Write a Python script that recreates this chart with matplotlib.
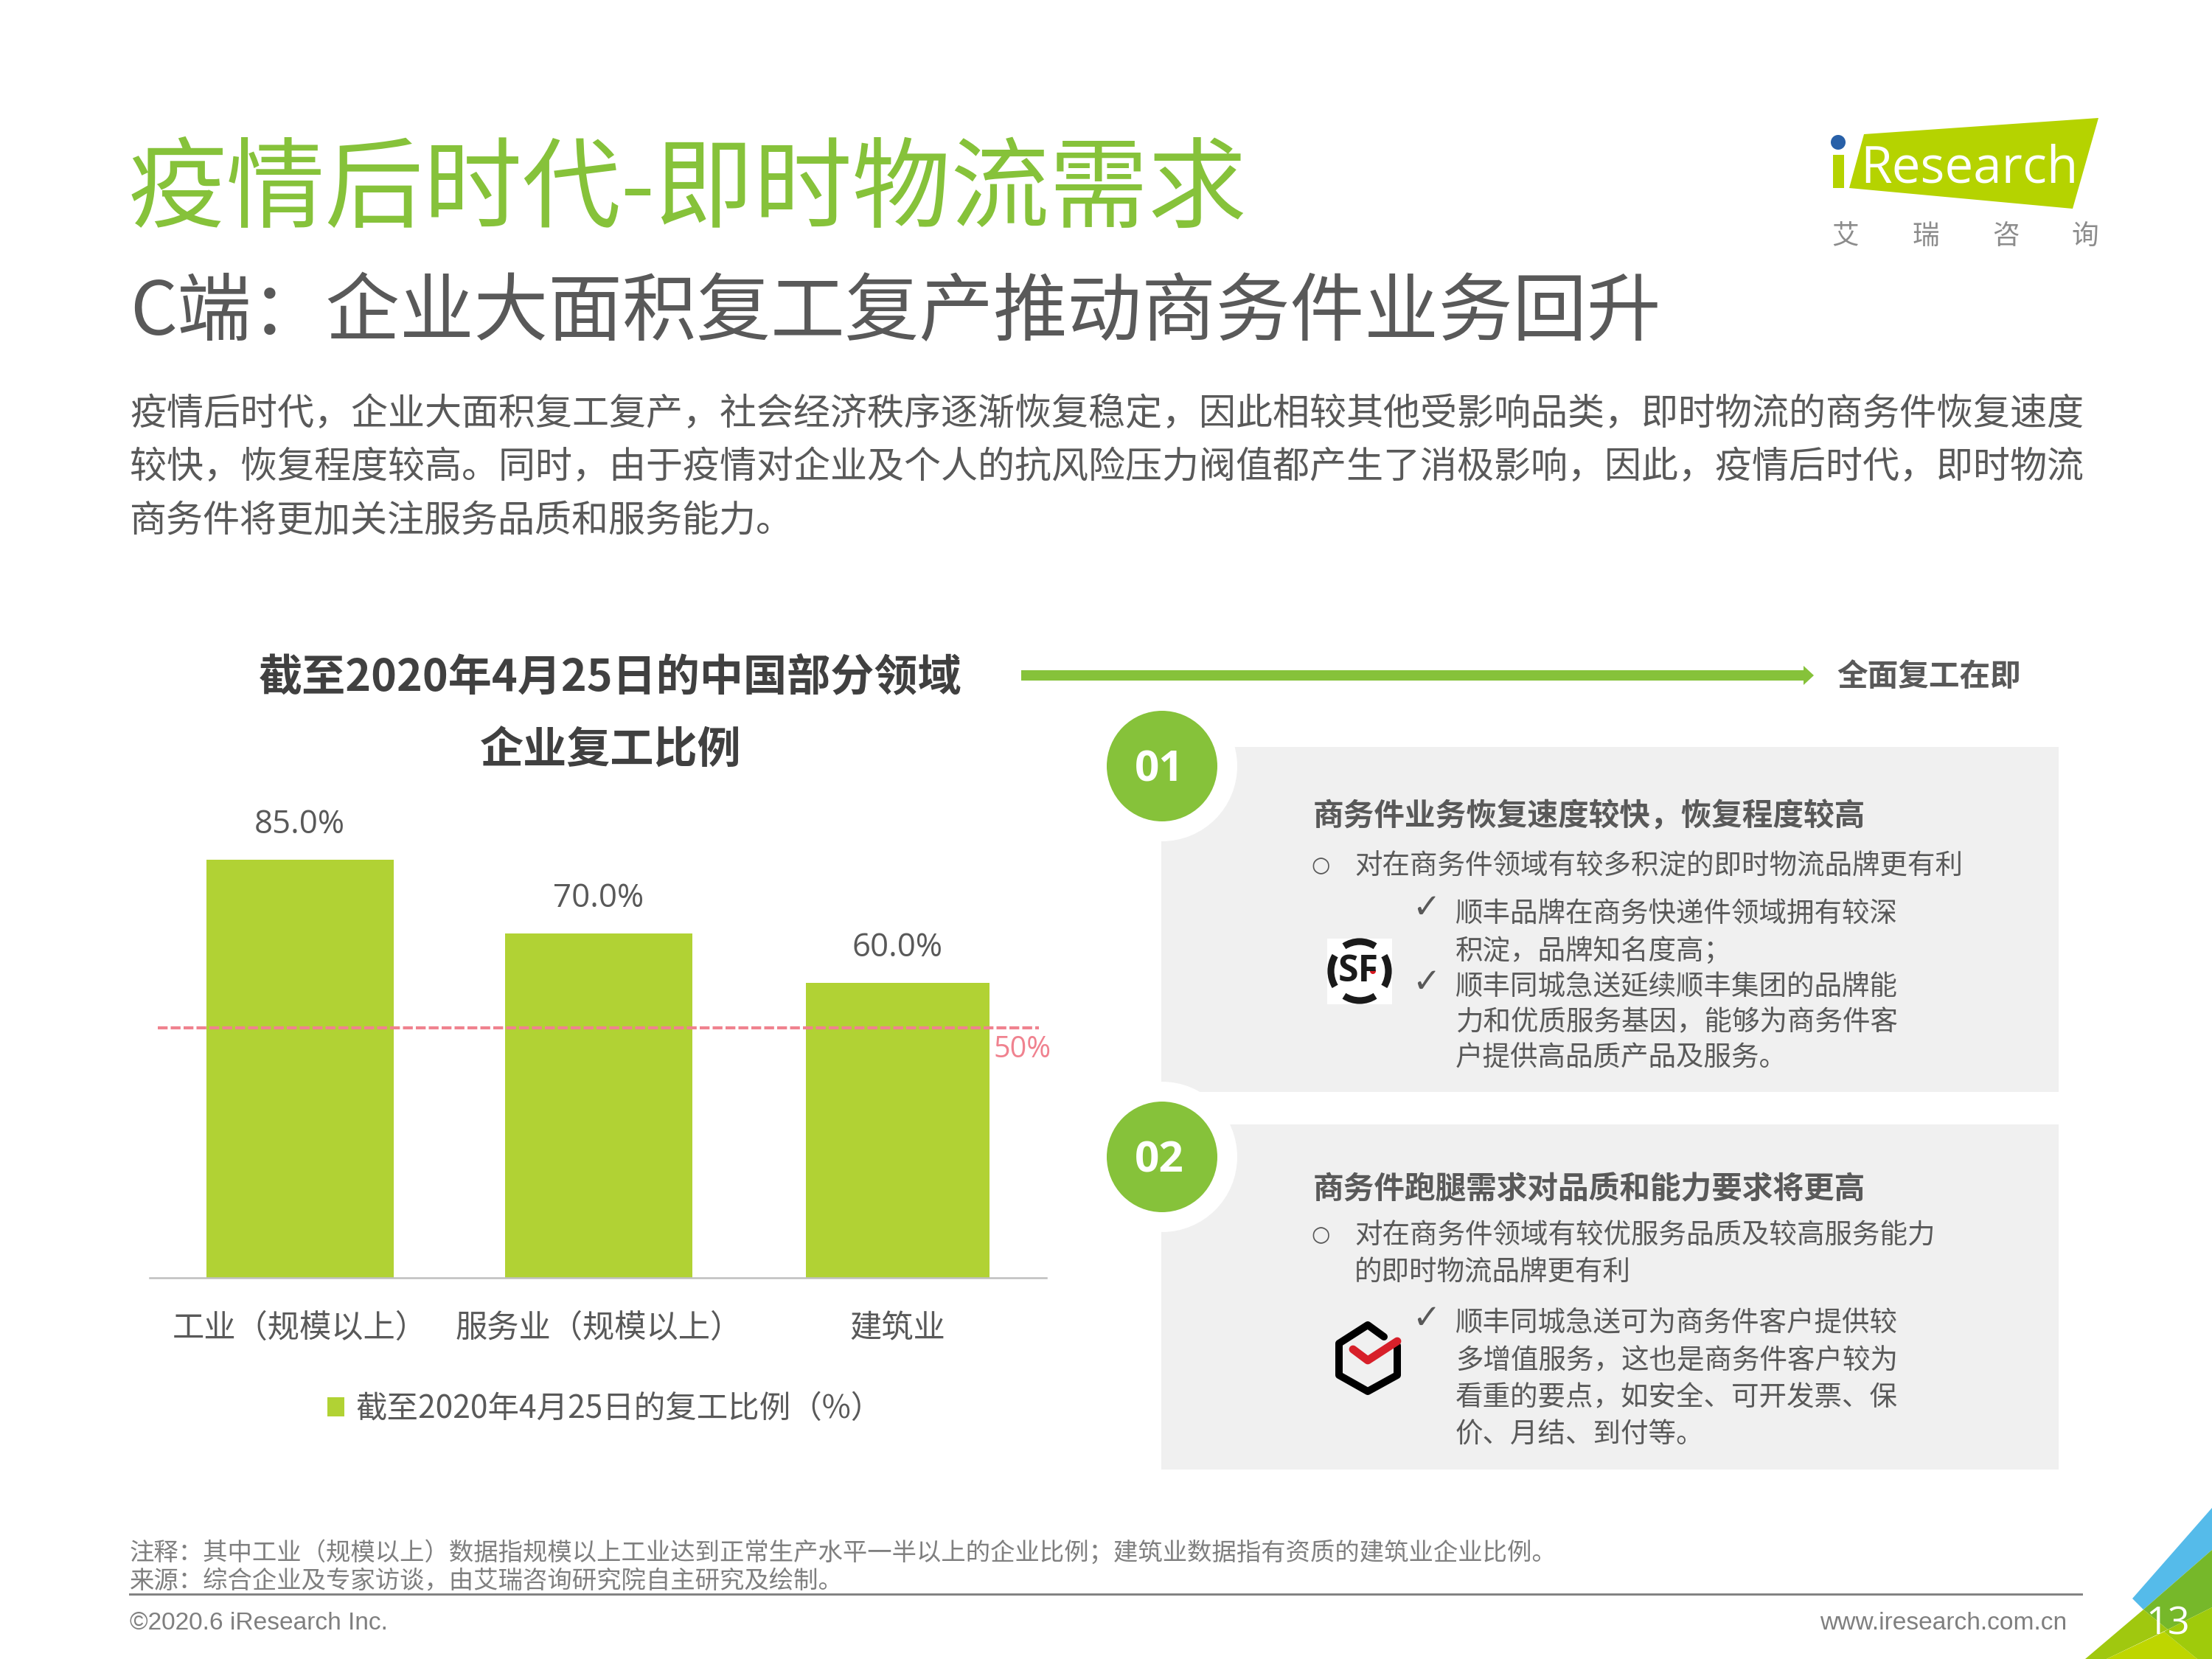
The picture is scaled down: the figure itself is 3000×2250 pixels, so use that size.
import matplotlib
matplotlib.use('Agg')
import matplotlib.pyplot as plt
from matplotlib.patches import Rectangle, Circle, Polygon, Arc

plt.rcParams['font.family'] = ['Noto Sans CJK SC', 'DejaVu Sans']

# chart data
categories = ['工业（规模以上）', '服务业（规模以上）', '建筑业']
values = [85.0, 70.0, 60.0]
bar_widths = [0.627, 0.627, 0.615]
ref_line = 50.8
ref_label = '50%'
legend_label = '截至2020年4月25日的复工比例（%）'

title = '疫情后时代-即时物流需求'
subtitle = 'C端：企业大面积复工复产推动商务件业务回升'
body = ['疫情后时代，企业大面积复工复产，社会经济秩序逐渐恢复稳定，因此相较其他受影响品类，即时物流的商务件恢复速度',
        '较快，恢复程度较高。同时，由于疫情对企业及个人的抗风险压力阀值都产生了消极影响，因此，疫情后时代，即时物流',
        '商务件将更加关注服务品质和服务能力。']
chart_title = ['截至2020年4月25日的中国部分领域', '企业复工比例']
panel1_lines = ['顺丰品牌在商务快递件领域拥有较深', '积淀，品牌知名度高；', '顺丰同城急送延续顺丰集团的品牌能',
                '力和优质服务基因，能够为商务件客', '户提供高品质产品及服务。']
panel2_lines = ['顺丰同城急送可为商务件客户提供较', '多增值服务，这也是商务件客户较为',
                '看重的要点，如安全、可开发票、保', '价、月结、到付等。']

GREEN = '#86C23A'
BAR = '#B1D234'
GREY = '#595959'
FOOT = '#7F7F7F'
PINK = '#F0828F'
PANEL = '#F0F0F0'

fig = plt.figure(figsize=(10, 7.5), dpi=300, facecolor='white')

# slide layer, coordinates in pixels
bg = fig.add_axes([0, 0, 1, 1])
bg.set_xlim(0, 3000)
bg.set_ylim(2250, 0)
bg.axis('off')


def put(x, y, s, size, color=GREY, weight='normal', ha='left', family=None):
    kw = {'family': family} if family else {}
    bg.text(x, y, s, fontsize=size, color=color, fontweight=weight, ha=ha, va='center', **kw)


# header
put(174, 260, title, 32.1, color=GREEN)
put(176, 425, subtitle, 24.15)
for y, line in zip([562, 634, 707], body):
    put(176, y, line, 12)

# logo
bg.add_patch(Polygon([(2528, 182), (2846, 160), (2811, 283), (2508, 255)], fc='#B5D300', ec='none'))
bg.add_patch(Rectangle((2486, 210), 15, 45, fc='#B5D300', ec='none'))
bg.add_patch(Circle((2493, 193), 10, fc='#2860A8', ec='none'))
bg.text(2523, 247, 'Research', fontsize=16.6, color='white', family='Open Sans', va='baseline')
for x, ch in zip([2503, 2612, 2720, 2828], '艾瑞咨询'):
    put(x, 320, ch, 8.8, color='#8C8C8C', ha='center')

# chart title and arrow
for y, line in zip([919, 1019], chart_title):
    put(828, y, line, 14.2, color='#404040', weight='bold', ha='center')
bg.add_patch(Polygon([(1385, 909), (2446, 909), (2446, 903), (2460, 916), (2446, 929), (2446, 923), (1385, 923)],
                     fc=GREEN, ec='none'))
put(2491, 918, '全面复工在即', 10, weight='bold')

# panels
for top, bottom in [(1013, 1481), (1525, 1993)]:
    bg.add_patch(Rectangle((1575, top), 1217, bottom - top, fc=PANEL, ec='none'))
for cy, num in [(1039, '01'), (1569, '02')]:
    bg.add_patch(Circle((1576, cy), 102, fc='white', ec='none'))
    bg.add_patch(Circle((1576, cy), 75, fc=GREEN, ec='none'))
    bg.text(1572, cy + 5, num, fontsize=14, color='white', fontweight='bold', family='Open Sans',
            ha='center', va='center')

# panel 1 text
put(1781, 1107, '商务件业务恢复速度较快，恢复程度较高', 10, weight='bold')
put(1791, 1174, '○', 7, ha='center', family='DejaVu Sans')
put(1837, 1175, '对在商务件领域有较多积淀的即时物流品牌更有利', 9)
for y in [1232, 1333]:
    put(1934, y, '✓', 11, ha='center', family='DejaVu Sans')
for y, line in zip([1240, 1290, 1339, 1387, 1435], panel1_lines):
    put(1974, y, line, 9)

# panel 2 text
put(1781, 1613, '商务件跑腿需求对品质和能力要求将更高', 10, weight='bold')
put(1791, 1675, '○', 7, ha='center', family='DejaVu Sans')
put(1837, 1676, '对在商务件领域有较优服务品质及较高服务能力', 9)
put(1837, 1726, '的即时物流品牌更有利', 9)
put(1934, 1789, '✓', 11, ha='center', family='DejaVu Sans')
for y, line in zip([1795, 1846, 1896, 1946], panel2_lines):
    put(1974, y, line, 9)

# SF logo
bg.add_patch(Rectangle((1800, 1273), 88, 89, fc='white', ec='none'))
for a1, a2 in [(-32, 32), (58, 122), (148, 212), (238, 302)]:
    bg.add_patch(Arc((1844, 1317), 78, 80, theta1=a1, theta2=a2, color='#1A1A1A', lw=2.2))
bg.text(1842, 1318, 'SF', fontsize=12, color='#1A1A1A', fontweight='bold', family='Open Sans',
        ha='center', va='center')
bg.add_patch(Circle((1862, 1317), 4, fc='#D7181F', ec='none'))

# hexagon logo
hex_x = [1877, 1855, 1816, 1816, 1855, 1895, 1895]
hex_y = [1813, 1797, 1822, 1865, 1887, 1865, 1825]
bg.plot(hex_x, hex_y, color='black', lw=2.4, solid_joinstyle='round', solid_capstyle='round')
bg.plot([1835, 1855, 1895], [1830, 1845, 1819], color='#D7202A', lw=2.6, solid_capstyle='round')

# footer
put(176, 2106, '注释：其中工业（规模以上）数据指规模以上工业达到正常生产水平一半以上的企业比例；建筑业数据指有资质的建筑业企业比例。',
    8, color=FOOT)
put(176, 2145, '来源：综合企业及专家访谈，由艾瑞咨询研究院自主研究及绘制。', 8, color=FOOT)
bg.plot([176, 2823], [2162, 2162], color='#808080', lw=0.7)
put(176, 2202, '©2020.6 iResearch Inc.', 8.05, color=FOOT, family='Liberation Sans')
put(2803, 2202, 'www.iresearch.com.cn', 8.05, color=FOOT, ha='right', family='Liberation Sans')

# corner
bg.add_patch(Polygon([(2892, 2168), (3000, 2045), (3000, 2102), (2907, 2183)], fc='#55BBEA', ec='none'))
bg.add_patch(Polygon([(2907, 2183), (3000, 2102), (3000, 2180), (2940, 2210)], fc='#76B82A', ec='none'))
bg.add_patch(Polygon([(2828, 2250), (2907, 2183), (2940, 2210), (2857, 2250)], fc='#A0C80F', ec='none'))
bg.add_patch(Polygon([(2857, 2250), (2935, 2213), (2980, 2250)], fc='#BED600', ec='none'))
bg.add_patch(Polygon([(2940, 2210), (3000, 2180), (3000, 2250), (2980, 2250), (2935, 2213)], fc='#9FCB0B', ec='none'))
bg.text(2940, 2203, '13', fontsize=12.5, color='white', family='Open Sans', ha='center', va='center')

# bar chart
ax = fig.add_axes([203 / 3000, 1 - 1733 / 2250, (1419 - 203) / 3000, (1733 - 1100) / 2250])
ax.patch.set_alpha(0)
ax.set_xlim(-0.5025, 2.4975)
ax.set_ylim(0, 633 / 6.67)
bars = ax.bar(range(len(values)), values, width=bar_widths, color=BAR, label=legend_label)
ax.bar_label(bars, labels=[f'{v:.1f}%' for v in values], padding=6, fontsize=10.5, color=GREY,
             family='Open Sans')
ax.plot([0.009, 0.992], [ref_line, ref_line], transform=ax.get_yaxis_transform(), color=PINK, lw=1.0,
        dashes=(3.2, 1))
ax.text(1348, 1424, ref_label, transform=bg.transData, fontsize=9.5, color=PINK, family='Open Sans',
        ha='left', va='center')
ax.set_xticks(range(len(categories)), categories, fontsize=10.4, color=GREY)
ax.tick_params(axis='x', length=0, pad=11.3)
ax.set_yticks([])
for side in ['top', 'left', 'right']:
    ax.spines[side].set_visible(False)
ax.spines['bottom'].set_color('#BFBFBF')
ax.spines['bottom'].set_linewidth(0.6)
ax.legend(loc='center', bbox_to_anchor=(820 / 3000, 1 - 1911 / 2250), bbox_transform=fig.transFigure,
          frameon=False, fontsize=10.2, labelcolor=GREY, handlelength=0.55, handleheight=0.55, handletextpad=0.35)

fig.savefig('out.png', dpi=300)
